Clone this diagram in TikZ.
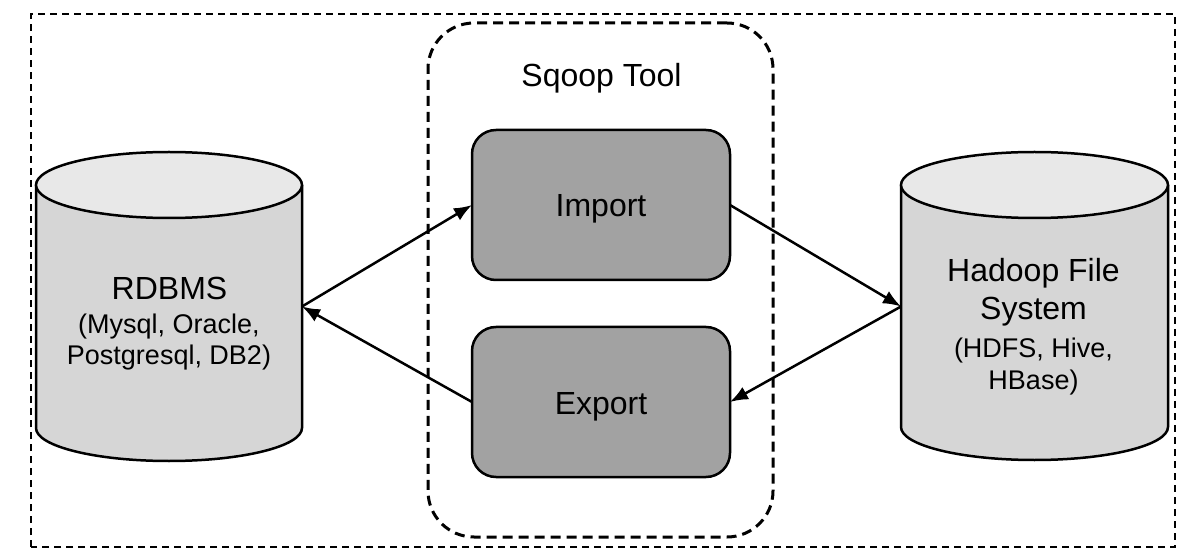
\documentclass[tikz,border=0pt]{standalone}
\usepackage{fontspec}
\setmainfont{Liberation Sans}
\usetikzlibrary{arrows.meta}
\definecolor{cylbody}{RGB}{214,214,214}
\definecolor{cyltop}{RGB}{232,232,232}
\definecolor{boxfill}{RGB}{162,162,162}
\begin{document}
\begin{tikzpicture}[x=1pt,y=1pt,
  outline/.style={line width=2.5pt},
  opbox/.style={draw, line width=2.5pt, fill=boxfill, rounded corners=24pt,
    minimum width=258pt, minimum height=150pt, inner sep=0pt, outer sep=0pt,
    font=\fontsize{32}{38}\selectfont, text height=30pt, text depth=6pt},
  big/.style={font=\fontsize{32}{38}\selectfont, inner sep=0pt, anchor=base},
  small/.style={font=\fontsize{27}{32}\selectfont, inner sep=0pt, anchor=base},
  conn/.style={line width=2.5pt, -{Latex[length=18pt,width=14pt]}},
  cylarea/.style={minimum height=309pt, inner sep=0pt, outer sep=0pt}]
\useasboundingbox (0,0) rectangle (1184,555);
\fill[white] (0,0) rectangle (1184,555);
% outer frame
\draw[line width=2.2pt, dash pattern=on 7pt off 5pt] (31,8) rectangle (1175,541);
% sqoop tool container
\node[draw, line width=3pt, dash pattern=on 10pt off 6pt, rounded corners=46pt,
  minimum width=345pt, minimum height=514pt, inner sep=0pt, outer sep=0pt] (sqoop) at (600.5,275) {};
\node[big] (sqooplabel) at (601.5,468) {Sqoop Tool};
% RDBMS cylinder
\node[cylarea, minimum width=266pt] (rdbms) at (169,248.5) {};
\fill[cylbody] (36,370) -- (36,127) arc[start angle=180, end angle=360, x radius=133, y radius=33] -- (302,370) -- cycle;
\draw[outline] (36,370) -- (36,127) arc[start angle=180, end angle=360, x radius=133, y radius=33] -- (302,370);
\draw[outline, fill=cyltop] (169,370) ellipse [x radius=133, y radius=33];
\node[big] (rdbms1) at (169.5,255) {RDBMS};
\node[small] (rdbms2) at (169,222) {(Mysql, Oracle,};
\node[small] (rdbms3) at (169,190) {Postgresql, DB2)};
% Hadoop cylinder
\node[cylarea, minimum width=267pt] (hadoop) at (1034.5,248.5) {};
\fill[cylbody] (901,370) -- (901,128) arc[start angle=180, end angle=360, x radius=133.5, y radius=33] -- (1168,370) -- cycle;
\draw[outline] (901,370) -- (901,128) arc[start angle=180, end angle=360, x radius=133.5, y radius=33] -- (1168,370);
\draw[outline, fill=cyltop] (1034.5,370) ellipse [x radius=133.5, y radius=33];
\node[big] (hadoop1) at (1033.5,273) {Hadoop File};
\node[big] (hadoop2) at (1033.5,235) {System};
\node[small] (hadoop3) at (1033.5,197) {(HDFS, Hive,};
\node[small] (hadoop4) at (1033.5,165) {HBase)};
% operations
\node[opbox] (import) at (601,350) {Import};
\node[opbox] (export) at (601,153) {Export};
% connectors
\draw[conn] (rdbms.east) -- (import.west);
\draw[conn] (export.west) -- (rdbms.east);
\draw[conn] (import.east) -- (hadoop.west);
\draw[conn] (hadoop.west) -- (export.east);
\end{tikzpicture}
\end{document}
